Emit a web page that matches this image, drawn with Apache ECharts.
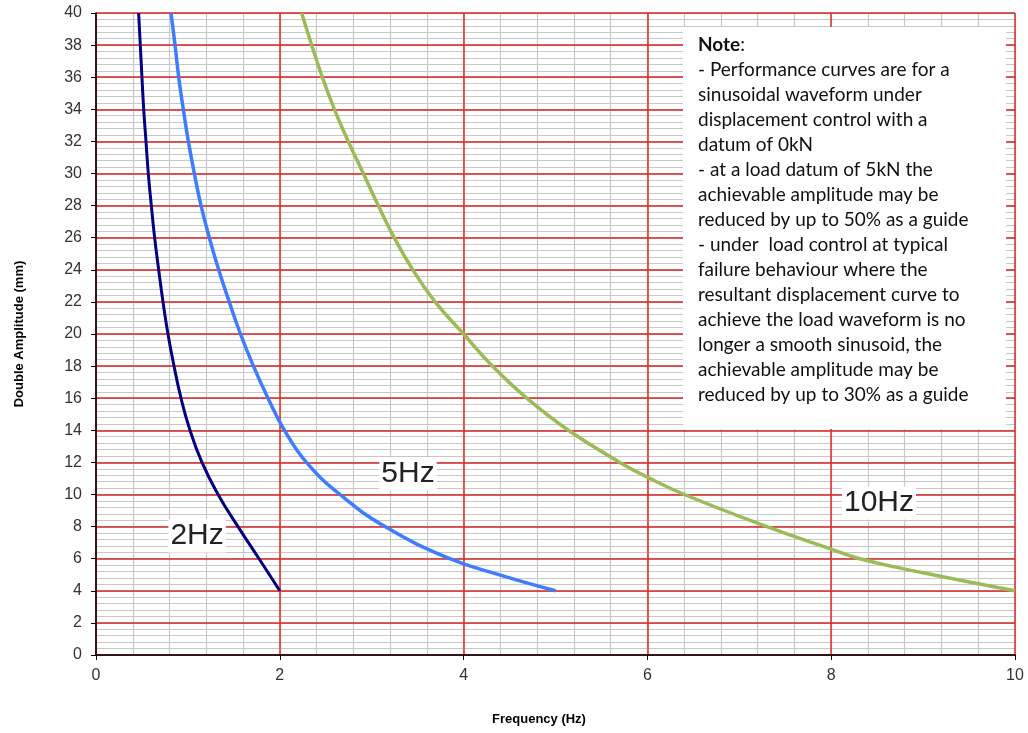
<!DOCTYPE html>
<html>
<head>
<meta charset="utf-8">
<script src="https://cdn.jsdelivr.net/npm/echarts@6/dist/echarts.min.js"></script>
<style>html,body{margin:0;padding:0;background:#fff}#c{width:1028px;height:733px}</style>
</head>
<body>
<div id="c"></div>
<script>
// ---- data ----
const freq2 = [0.464,0.482,0.500,0.519,0.544,0.569,0.602,0.638,0.682,0.729,0.783,0.849,0.925,1.023,1.153,1.328,1.545,1.774,2.0];
const amp2  = [40,38,36,34,32,30,28,26,24,22,20,18,16,14,12,10,8,6,4];
const freq5 = [0.816,0.860,0.900,0.950,1.005,1.070,1.143,1.233,1.335,1.450,1.572,1.713,1.872,2.051,2.290,2.655,3.145,3.85,4.4,5.0];
const amp5  = [40,38,36,34,32,30,28,26,24,22,20,18,16,14,12,10,8,6,4.98,4];
const freq10 = [2.238,2.347,2.463,2.594,2.745,2.909,3.072,3.245,3.447,3.69,4.0,4.313,4.687,5.14,5.70,6.0,6.402,7.30,8.0,8.31,9.0,10.0];
const amp10  = [40,38,36,34,32,30,28,26,24,22,20,18,16,14,12,11.08,10,8,6.6,6,5.12,4];
const seriesNames = ['2Hz','5Hz','10Hz'];
const labelFreq = [1.10, 3.395, 8.52];
const labelAmp  = [7.41, 11.28, 9.47];
const xMin = 0, xMax = 10, xMajor = 2, xMinor = 0.4;
const yMin = 0, yMax = 40, yMajor = 2, yMinor = 0.4;
const xTitle = 'Frequency (Hz)';
const yTitle = 'Double Amplitude (mm)';
const noteLines = [
  '- Performance curves are for a',
  'sinusoidal waveform under',
  'displacement control with a',
  'datum of 0kN',
  '- at a load datum of 5kN the',
  'achievable amplitude may be',
  'reduced by up to 50% as a guide',
  '- under  load control at typical',
  'failure behaviour where the',
  'resultant displacement curve to',
  'achieve the load waveform is no',
  'longer a smooth sinusoid, the',
  'achievable amplitude may be',
  'reduced by up to 30% as a guide'
];

const pairs = (xs, ys) => xs.map((x, i) => [x, ys[i]]);
const colors = ['#000080', '#3f7cff', '#9bbb59'];
const widths = [3, 3.5, 3.5];
const datasets = [pairs(freq2, amp2), pairs(freq5, amp5), pairs(freq10, amp10)];
const FONT = 'Liberation Sans, Arial, sans-serif';

const chart = echarts.init(document.getElementById('c'), null, {renderer: 'canvas'});

const series = datasets.map((d, i) => ({
  name: seriesNames[i],
  type: 'line',
  data: d,
  smooth: 0.45,
  showSymbol: false,
  clip: true,
  z: 5,
  xAxisIndex: 0, yAxisIndex: 0,
  lineStyle: {color: colors[i], width: widths[i]},
  markPoint: {
    symbol: 'rect',
    symbolSize: [1, 1],
    itemStyle: {color: 'rgba(0,0,0,0)'},
    label: {
      show: true,
      formatter: seriesNames[i],
      fontFamily: FONT,
      fontSize: 30,
      color: '#222',
      backgroundColor: '#fff',
      padding: [3, 2, 0, 2]
    },
    data: [{coord: [labelFreq[i], labelAmp[i]]}]
  }
}));

const noteText = '{b|Note}{n|:}\n' + noteLines.map(l => '{n|' + l + '}').join('\n');

chart.setOption({
  animation: false,
  backgroundColor: '#fff',
  grid: {left: 96, right: 13, top: 13, bottom: 78, containLabel: false},
  xAxis: [{
    type: 'value', min: xMin, max: xMax, interval: xMajor, z: 3,
    name: xTitle, nameLocation: 'middle', nameGap: 58,
    nameTextStyle: {fontFamily: FONT, fontWeight: 'bold', fontSize: 13, color: '#000', padding: [0, 33, 0, 0]},
    axisLine: {show: true, onZero: false, lineStyle: {color: '#000', width: 1.5}},
    axisTick: {show: true, length: 5, lineStyle: {color: '#000'}},
    axisLabel: {fontFamily: FONT, fontSize: 16, color: '#333', margin: 13},
    splitLine: {show: true, lineStyle: {color: '#dd2a2a', width: 1.5}}
  }, {
    type: 'value', min: xMin, max: xMax, interval: xMinor, z: 1, position: 'bottom',
    axisLine: {show: false}, axisTick: {show: false}, axisLabel: {show: false},
    splitLine: {show: true, lineStyle: {color: '#c8c8c8', width: 1.2}}
  }],
  yAxis: [{
    type: 'value', min: yMin, max: yMax, interval: yMajor, z: 3,
    name: yTitle, nameLocation: 'middle', nameGap: 70, nameRotate: 90,
    nameTextStyle: {fontFamily: FONT, fontWeight: 'bold', fontSize: 13, color: '#000'},
    axisLine: {show: true, onZero: false, lineStyle: {color: '#000', width: 1.5}},
    axisTick: {show: true, length: 5, lineStyle: {color: '#000'}},
    axisLabel: {fontFamily: FONT, fontSize: 16, color: '#333', margin: 14},
    splitLine: {show: true, lineStyle: {color: '#d42424', width: 1.5}}
  }, {
    type: 'value', min: yMin, max: yMax, interval: yMinor, z: 1, position: 'left',
    axisLine: {show: false}, axisTick: {show: false}, axisLabel: {show: false},
    splitLine: {show: true, lineStyle: {color: '#c8c8c8', width: 1.2}}
  }],
  series: series,
  graphic: [
    {type: 'rect', left: 683, top: 27, z: 100, shape: {x: 0, y: 0, width: 323, height: 402}, style: {fill: '#ffffff'}},
    {type: 'text', left: 698, top: 35, z: 101, style: {
      text: noteText,
      rich: {
        b: {fontFamily: 'Lato, Open Sans, sans-serif', fontSize: 19, fontWeight: 'bold', lineHeight: 25, fill: '#111'},
        n: {fontFamily: 'Lato, Open Sans, sans-serif', fontSize: 19, lineHeight: 25, fill: '#111'}
      }
    }}
  ]
});
</script>
</body>
</html>
